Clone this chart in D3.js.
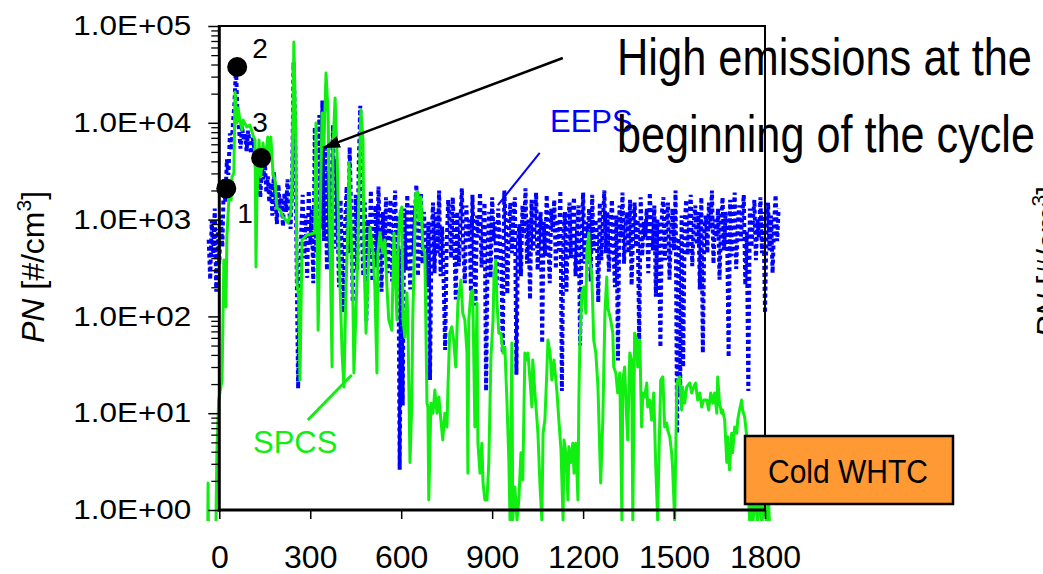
<!DOCTYPE html>
<html><head><meta charset="utf-8">
<script src="https://cdn.jsdelivr.net/npm/d3@7/dist/d3.min.js"></script>
<style>html,body{margin:0;padding:0;background:#fff;overflow:hidden}text{font-family:"Liberation Sans",Arial,sans-serif}</style>
</head><body><svg id="c" width="1043" height="574"></svg>
<script>
// ---------- data ----------
const xTicks = [0, 300, 600, 900, 1200, 1500, 1800];
const yTicks = [1, 10, 100, 1000, 10000, 100000];
const yTickLabels = ["1.0E+00", "1.0E+01", "1.0E+02", "1.0E+03", "1.0E+04", "1.0E+05"];

// EEPS: sampled every 5 s starting at -35 s
const eepsStart = -35, eepsStep = 5;
const eepsPN = [
 620,240,980,410,1300,180,760,350,1100,520,
 2600,1500,4200,2900,7800,5200,9800,16000,38000,12000,
 8600,5400,9200,6800,7600,5100,8300,6200,4800,7000,
 5600,3800,2200,4400,1700,3300,2600,4100,1900,2800,
 1500,2400,1100,3100,1800,900,2300,1300,1700,850,
 1900,1200,2600,1400,800,2100,42000,9000,350,18,
 160,700,1800,400,1100,250,2000,550,1300,220,
 9000,450,1500,12000,800,17000,600,5500,300,3200,
 400,1500,9500,500,4200,900,200,1600,350,110,
 900,2200,450,5600,1100,140,700,1800,300,3800,
 15000,800,260,1500,90,1000,400,2000,230,750,
 1400,320,2200,600,180,1200,450,1700,280,900,
 1600,230,800,2000,380,1100,2.6,500,12,1300,
 300,1800,600,190,1400,420,1000,2300,260,700,
 1900,350,1200,520,200,950,22,650,1500,280,
 1200,450,2000,260,850,230,45,550,1600,900,
 400,1700,650,150,1200,330,900,2100,480,220,
 1400,600,1000,180,1800,400,130,1100,650,1900,
 320,850,1500,17,480,1200,250,1700,600,950,
 210,1300,650,380,42,2000,900,170,750,1500,
 450,1100,1700,25,550,900,260,1400,700,2100,
 350,1000,150,1600,480,850,1900,300,650,1200,
 53,950,420,1800,600,220,1300,750,1600,310,
 1000,480,2000,17,650,1200,180,850,1500,400,
 1100,1700,260,750,1400,50,550,1900,350,950,
 650,1300,230,1800,480,1000,750,140,1500,380,
 900,2000,450,1200,290,750,1600,520,200,1100,
 35,1400,650,1900,350,850,1200,450,1600,210,
 750,1500,520,1000,53,1700,420,950,650,1300,
 280,1900,800,480,1400,160,1000,700,48,1200,
 1700,380,900,1500,240,750,1300,480,2000,6.2,
 650,15,1100,30,850,1600,430,1000,1800,330,
 900,1400,550,1200,190,1700,42,750,1100,450,
 1500,800,2000,350,1000,650,1300,240,900,1700,
 480,1200,750,38,1600,420,1000,1900,310,850,
 1400,600,1100,1800,210,750,17,1300,520,950,
 1600,380,1000,650,1700,450,1200,108,800,1500,
 480,1100,280,900,1800,600,1300
];

// SPCS: time [s] and PN [#/cm3]
const spcsTime = [
 -38,-37,-36,-11,-8,-2,9,12,15,22,
 25,32,39,42,48,52,58,62,68,75,
 78,91,101,111,118,121,124,131,137,144,
 151,160,164,170,177,184,190,200,210,220,
 226,236,240,246,253,256,262,266,273,289,
 315,319,326,332,339,345,352,359,362,372,
 375,382,389,395,405,411,418,425,428,434,
 441,444,451,457,461,467,474,477,484,490,
 497,507,513,520,523,530,540,546,553,559,
 569,576,586,589,596,602,606,612,619,622,
 629,635,638,648,655,658,665,671,678,685,
 688,691,698,705,711,718,724,731,737,744,
 751,754,760,767,773,780,787,797,803,810,
 817,820,823,830,836,843,850,853,860,866,
 870,876,883,889,896,903,906,912,916,922,
 929,936,942,949,955,959,965,968,975,982,
 988,995,1001,1008,1015,1018,1025,1031,1034,1041,
 1048,1051,1058,1064,1068,1074,1081,1084,1091,1097,
 1104,1114,1120,1127,1134,1137,1143,1150,1153,1160,
 1166,1170,1176,1183,1186,1189,1196,1202,1209,1212,
 1219,1222,1229,1235,1242,1249,1258,1265,1272,1278,
 1281,1291,1298,1301,1308,1314,1321,1328,1331,1337,
 1344,1347,1354,1360,1364,1370,1377,1380,1387,1393,
 1397,1403,1410,1413,1420,1426,1433,1440,1446,1449,
 1456,1463,1469,1476,1479,1486,1492,1495,1502,1509,
 1512,1519,1525,1528,1535,1542,1552,1558,1565,1571,
 1578,1585,1591,1598,1608,1614,1621,1628,1634,1641,
 1644,1650,1657,1660,1667,1674,1677,1683,1690,1693,
 1700,1707,1710,1716,1723,1726,1733,1740,1745,1750,
 1755,1760,1768,1775,1782,1790,1797,1805,1812,1815
];
const spcsPN = [
 0.7,1.9,0.7,0.7,3.9,13.7,22,92,383,125,
 661,1711,1594,2754,3030,20800,9950,14200,10700,8433,
 10700,9057,9490,7480,6637,324,1594,6637,2754,6182,
 4128,7129,4128,7129,3030,2565,1318,1257,1064,991,
 923,1170,2565,68400,5623,221,159,22,615,693,
 727,9950,72,839,12600,5623,32700,12600,2172,30,
 5623,18000,4128,452,41.9,18.7,201,991,3843,991,
 125,26,116,452,2172,13550,6637,452,67,238,
 839,452,201,26,452,727,452,615,201,92,
 72,727,92,452,1170,1350,92,61,175,92,
 3.1,12.7,92,1882,1928,991,1711,521,452,12.7,
 11.6,1.27,12.7,10,17.4,10,14.7,8.5,5.3,10,
 7.2,17.4,67,78,57,30,137,238,108,92,
 41.9,2.4,92,175,187,7.2,137,4.9,2.4,4.9,
 1.9,1.27,1.27,3.1,38,92,255,383,137,67,
 67,41.9,48,12.7,3.3,0.79,53,0.79,1.73,0.79,
 1.27,3.9,2.04,41.9,35.5,41.9,22,11.6,35.5,16.2,
 8.5,6.2,1.73,0.79,6.2,8.5,30,57,41.9,22,
 35.5,16.2,8.5,4.2,0.79,5.3,3.9,1.27,4.5,3.1,
 4.9,2.4,4.9,1.27,13.7,48,175,201,108,452,
 727,383,255,57,41.9,18.7,1.9,8.5,108,255,
 125,92,67,30,26,16.2,26,0.79,22,30,
 8.5,5.3,41.9,35.5,0.79,67,57,30,57,7.2,
 16.2,14.7,20.5,11.6,13.7,8.5,16.2,2.6,0.79,2.4,
 22,23.7,7.2,7.9,6.7,5.7,3.9,2.8,0.79,18.7,
 22,23.7,10.8,18.7,12.7,18.7,20.5,16.2,18.7,20.5,
 13.7,16.2,11.6,13.7,13.7,10.8,16.2,12.7,16.2,10,
 23.7,12.7,10,10.8,8.5,3.1,5.7,2.6,6.2,3.9,
 7.2,6.2,8.5,10.8,13.7,10.8,9.1,5.7,1.5,0.7,
 1.8,0.7,1.6,0.7,1.4,0.7,1.5,0.7,1.2,0.7
];

// numbered markers on the EEPS trace
const markerTime = [23, 59, 138];
const markerPN = [2100, 37700, 4330];
const markerLabel = ["1", "2", "3"];

// annotation pointers (time, PN)
const arrowFrom = [1133, 46700], arrowTo = [342, 5500];
const eepsPtrFrom = [1057, 4880], eepsPtrTo = [919, 1415];
const spcsPtrFrom = [292, 8.5], spcsPtrTo = [437, 24.8];

// ---------- drawing ----------
const svg = d3.select("#c");
const L = 219.3, R = 765, T = 26, B = 510;
const x = d3.scaleLinear().domain([0, 1800]).range([L, R]);
const y = d3.scaleLog().domain([1, 1e5]).range([B, T]);

svg.append("defs").append("clipPath").attr("id", "clip")
  .append("rect").attr("x", 195).attr("y", 18).attr("width", 600).attr("height", 503);

const eeps = eepsPN.map((v, i) => ({ t: eepsStart + i * eepsStep, v }));
const spcs = spcsTime.map((t, i) => ({ t, v: spcsPN[i] }));
const line = d3.line().x(d => x(d.t)).y(d => y(d.v));

const plot = svg.append("g").attr("clip-path", "url(#clip)");
plot.append("path").datum(eeps).attr("d", line)
  .attr("fill", "none").attr("stroke", "#0000ff").attr("stroke-width", 4)
  .attr("stroke-dasharray", "4,3");
plot.append("path").datum(spcs).attr("d", line)
  .attr("fill", "none").attr("stroke", "#11ee11").attr("stroke-width", 3)
  .attr("stroke-linejoin", "round");

// frame (top/right)
svg.append("line").attr("x1", L).attr("x2", R + 1).attr("y1", T).attr("y2", T).attr("stroke", "#000").attr("stroke-width", 2);
svg.append("line").attr("x1", R).attr("x2", R).attr("y1", T).attr("y2", B).attr("stroke", "#000").attr("stroke-width", 2);

// y axis: minor ticks
const minor = [];
for (let d = 0; d < 5; d++) for (let m = 2; m <= 9; m++) minor.push(m * Math.pow(10, d));
const gMinor = svg.append("g").attr("transform", `translate(${L},0)`)
  .call(d3.axisLeft(y).tickValues(minor).tickSize(8).tickFormat(""));
gMinor.select(".domain").remove();
gMinor.selectAll("line").attr("stroke", "#000").attr("stroke-width", 1.3);

const gY = svg.append("g").attr("transform", `translate(${L},0)`)
  .call(d3.axisLeft(y).tickValues(yTicks).tickSize(11).tickPadding(17)
    .tickFormat((d, i) => yTickLabels[i]));
gY.select(".domain").remove();
gY.selectAll("line").attr("stroke", "#000").attr("stroke-width", 1.5);
gY.selectAll("text").attr("fill", "#000").style("font-size", "27px")
  .style("font-family", '"Liberation Sans",Arial,sans-serif')
  .attr("textLength", 118).attr("lengthAdjust", "spacingAndGlyphs");

// x axis
const gX = svg.append("g").attr("transform", `translate(0,${B})`)
  .call(d3.axisBottom(x).tickValues(xTicks).tickSize(9).tickPadding(26).tickFormat(d3.format("d")));
gX.select(".domain").remove();
gX.selectAll("line").attr("stroke", "#000").attr("stroke-width", 1.5);
gX.selectAll("text").attr("fill", "#000").style("font-size", "32px")
  .style("font-family", '"Liberation Sans",Arial,sans-serif');

// axis lines
svg.append("line").attr("x1", L).attr("x2", L).attr("y1", T - 1).attr("y2", B + 1.5).attr("stroke", "#000").attr("stroke-width", 3);
svg.append("line").attr("x1", L - 1.5).attr("x2", R + 1).attr("y1", B).attr("y2", B).attr("stroke", "#000").attr("stroke-width", 3);

// y label
const yl = svg.append("text").attr("transform", "translate(44,267) rotate(-90)")
  .attr("text-anchor", "middle").style("font-size", "32px").attr("fill", "#000");
yl.append("tspan").style("font-style", "italic").text("PN");
yl.append("tspan").text(" [#/cm");
yl.append("tspan").attr("dy", -13).style("font-size", "21px").text("3");
yl.append("tspan").attr("dy", 13).text("]");

// cropped neighbour label at right edge
const yr = svg.append("text").attr("transform", "translate(1059,262) rotate(-90)")
  .attr("text-anchor", "middle").style("font-size", "32px").attr("fill", "#000");
yr.append("tspan").style("font-style", "italic").text("PN");
yr.append("tspan").text(" [#/cm");
yr.append("tspan").attr("dy", -13).style("font-size", "21px").text("3");
yr.append("tspan").attr("dy", 13).text("]");

// markers
const markers = markerTime.map((t, i) => ({ t, v: markerPN[i], l: markerLabel[i] }));
svg.selectAll("circle.mk").data(markers).join("circle").attr("class", "mk")
  .attr("cx", d => x(d.t)).attr("cy", d => y(d.v)).attr("r", 10).attr("fill", "#000");
const lblOff = { "1": [11, 35], "2": [15, -9], "3": [-9, -26] };
svg.selectAll("text.mkl").data(markers).join("text").attr("class", "mkl")
  .attr("x", d => x(d.t) + lblOff[d.l][0]).attr("y", d => y(d.v) + lblOff[d.l][1])
  .style("font-size", "28px").attr("fill", "#000").text(d => d.l);

// arrow
const defs = svg.select("defs");
defs.append("marker").attr("id", "ah").attr("markerUnits", "userSpaceOnUse")
  .attr("markerWidth", 18).attr("markerHeight", 12).attr("refX", 17).attr("refY", 6)
  .attr("orient", "auto").append("path").attr("d", "M0,0 L17,6 L0,12 Z").attr("fill", "#000");
svg.append("line")
  .attr("x1", x(arrowFrom[0])).attr("y1", y(arrowFrom[1]))
  .attr("x2", x(arrowTo[0])).attr("y2", y(arrowTo[1]))
  .attr("stroke", "#000").attr("stroke-width", 2.5).attr("marker-end", "url(#ah)");

// pointers
svg.append("line")
  .attr("x1", x(eepsPtrFrom[0])).attr("y1", y(eepsPtrFrom[1]))
  .attr("x2", x(eepsPtrTo[0])).attr("y2", y(eepsPtrTo[1]))
  .attr("stroke", "#0000ff").attr("stroke-width", 2);
svg.append("line")
  .attr("x1", x(spcsPtrFrom[0])).attr("y1", y(spcsPtrFrom[1]))
  .attr("x2", x(spcsPtrTo[0])).attr("y2", y(spcsPtrTo[1]))
  .attr("stroke", "#11ee11").attr("stroke-width", 3);

// series labels
svg.append("text").attr("x", 550).attr("y", 132).style("font-size", "31px").attr("fill", "#0000ff").text("EEPS");
svg.append("text").attr("x", 253).attr("y", 453).style("font-size", "31px").attr("fill", "#11ee11").text("SPCS");

// headline annotation
svg.append("text").attr("x", 617).attr("y", 75).style("font-size", "52px").attr("fill", "#000")
  .attr("textLength", 415).attr("lengthAdjust", "spacingAndGlyphs").text("High emissions at the");
svg.append("text").attr("x", 617).attr("y", 152).style("font-size", "52px").attr("fill", "#000")
  .attr("textLength", 418).attr("lengthAdjust", "spacingAndGlyphs").text("beginning of the cycle");

// Cold WHTC box
svg.append("rect").attr("x", 745).attr("y", 436).attr("width", 208).attr("height", 68)
  .attr("fill", "#ff9933").attr("stroke", "#000").attr("stroke-width", 2.5);
svg.append("text").attr("x", 768).attr("y", 483).style("font-size", "33px").attr("fill", "#000")
  .attr("textLength", 160).attr("lengthAdjust", "spacingAndGlyphs").text("Cold WHTC");
</script></body></html>
